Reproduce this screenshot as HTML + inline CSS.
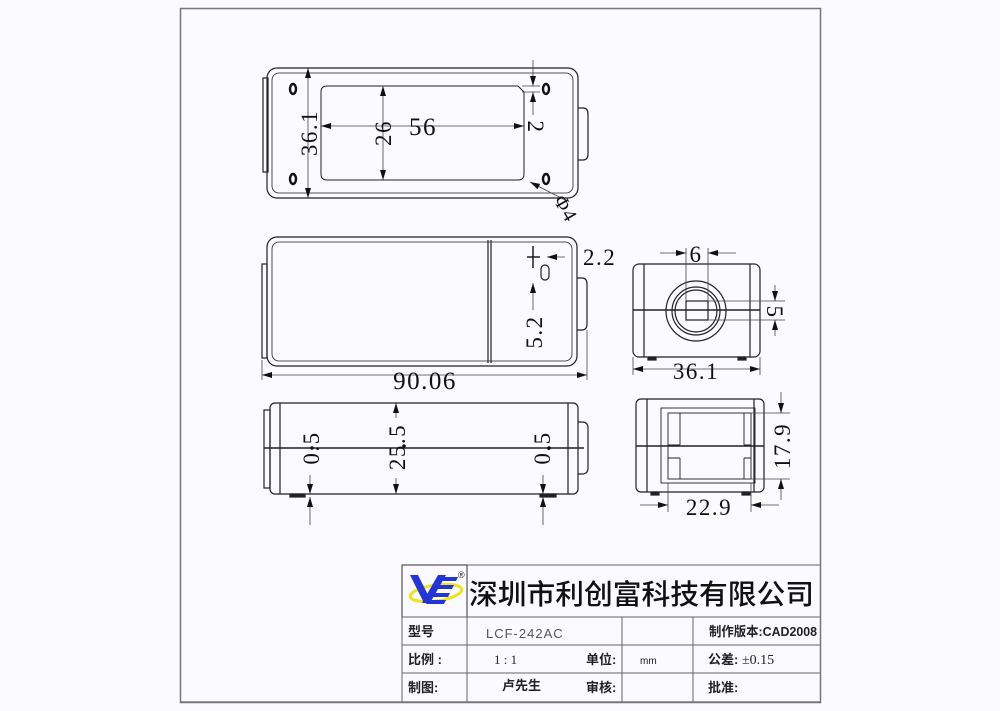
<!DOCTYPE html>
<html><head><meta charset="utf-8"><style>
html,body{margin:0;padding:0;background:#fafaff;}
svg{display:block;}
.d{font-family:"Liberation Serif","Noto Serif CJK SC",serif;font-size:23px;fill:#111;letter-spacing:1.5px;}
.c{font-family:"Liberation Sans","Noto Sans CJK SC",sans-serif;font-weight:bold;font-size:13px;fill:#222;}
</style></head><body>
<svg width="1000" height="711" viewBox="0 0 1000 711" xmlns="http://www.w3.org/2000/svg">
<defs>
<marker id="a" viewBox="0 0 10 6" refX="10" refY="3" markerWidth="10" markerHeight="6" orient="auto-start-reverse" markerUnits="userSpaceOnUse"><path d="M0,0L10,3L0,6z" fill="#111"/></marker>
</defs>
<rect x="0" y="0" width="1000" height="711" fill="#fafaff"/>
<rect x="180.5" y="8.5" width="640" height="694" fill="none" stroke="#777" stroke-width="1.5"/>

<g fill="none" stroke="#222" stroke-width="1.2">
<rect x="267" y="68" width="311" height="130" rx="10"/>
<rect x="272" y="73" width="301" height="120" rx="7" stroke-width="0.8"/>
<rect x="263" y="78" width="5" height="94"/>
<path d="M578,108 h5 q5,0 5,6 v40 q0,6 -5,6 h-5"/>
<path d="M327,86 H518 L524,92 V174 Q524,180 518,180 H327 Q321,180 321,174 V92 Q321,86 327,86Z" stroke-width="1"/>
<rect x="267" y="237" width="310" height="129" rx="10"/>
<rect x="272" y="242" width="300" height="119" rx="7" stroke-width="0.8"/>
<rect x="262" y="264" width="5" height="94"/>
<path d="M577,278 h5 q5,0 5,6 v40 q0,6 -5,6 h-5"/>
<line x1="488" y1="240" x2="488" y2="363"/><line x1="491" y1="240" x2="491" y2="363"/>
<rect x="541" y="265" width="8" height="15" rx="4"/>
<rect x="270" y="403" width="308" height="91" rx="5"/>
<line x1="280" y1="403" x2="280" y2="494"/><line x1="568" y1="403" x2="568" y2="494"/>
<line x1="264" y1="448" x2="584" y2="448" stroke-width="1.6"/>
<rect x="264" y="410" width="6" height="78"/>
<path d="M578,422 h4 q6,0 6,6 v40 q0,6 -6,6 h-4"/>
<rect x="290" y="494" width="15" height="3" fill="#222"/>
<rect x="540" y="494" width="16" height="3" fill="#222"/>
<rect x="633" y="264" width="127" height="93" rx="6"/>
<line x1="644" y1="264" x2="644" y2="357"/><line x1="750" y1="264" x2="750" y2="357"/>
<line x1="633" y1="310" x2="760" y2="310" stroke-width="1.6"/>
<circle cx="696" cy="311" r="30"/>
<circle cx="696" cy="311" r="24"/>
<circle cx="696" cy="311" r="21"/>
<rect x="686" y="301" width="22" height="19"/>
<rect x="648" y="357" width="8" height="3" fill="#222"/><rect x="738" y="357" width="8" height="3" fill="#222"/>
<rect x="636" y="399" width="128" height="93" rx="5"/>
<line x1="647" y1="399" x2="647" y2="492"/><line x1="754" y1="399" x2="754" y2="492"/>
<rect x="661" y="408" width="94" height="75" stroke-width="0.9"/>
<rect x="668" y="413" width="83" height="66" stroke-width="0.9"/>
<path d="M680,413 V445 M680,458 V479 M744,413 V445 M744,458 V479 M668,445 H680 M668,458 H680 M744,445 H751 M744,458 H751" stroke-width="0.9"/>
<line x1="636" y1="446" x2="764" y2="446" stroke-width="1.6"/>
<rect x="651" y="492" width="8" height="3" fill="#222"/><rect x="742" y="492" width="8" height="3" fill="#222"/>
</g>

<g fill="none" stroke="#111" stroke-width="2.4">
<ellipse cx="293" cy="89" rx="3" ry="5"/><ellipse cx="546" cy="89" rx="3" ry="5"/>
<ellipse cx="293" cy="179" rx="3" ry="5"/><ellipse cx="546" cy="179" rx="3" ry="5"/>
</g>

<g stroke="#444" stroke-width="0.8" fill="none">
<line x1="308" y1="68" x2="308" y2="198" marker-start="url(#a)" marker-end="url(#a)"/>
<line x1="383" y1="86" x2="383" y2="180" marker-start="url(#a)" marker-end="url(#a)"/>
<line x1="321" y1="126" x2="524" y2="126" marker-start="url(#a)" marker-end="url(#a)"/>
<line x1="533" y1="60" x2="533" y2="86" marker-end="url(#a)"/>
<line x1="533" y1="115" x2="533" y2="92" marker-end="url(#a)"/>
<line x1="522" y1="86" x2="540" y2="86"/><line x1="522" y1="92" x2="540" y2="92"/>
<line x1="565" y1="200" x2="530" y2="182" marker-end="url(#a)"/>
<line x1="262" y1="375" x2="587" y2="375" marker-start="url(#a)" marker-end="url(#a)"/>
<line x1="262" y1="360" x2="262" y2="380"/><line x1="587" y1="330" x2="587" y2="380"/>
<line x1="533" y1="246" x2="533" y2="268" stroke="#111" stroke-width="1.4"/><line x1="527" y1="257" x2="540" y2="257" stroke="#111" stroke-width="1.4"/>
<line x1="565" y1="257" x2="547" y2="257" marker-end="url(#a)"/>
<line x1="533" y1="310" x2="533" y2="283" marker-end="url(#a)"/>
<line x1="310" y1="475" x2="310" y2="494" marker-end="url(#a)"/>
<line x1="310" y1="525" x2="310" y2="497" marker-end="url(#a)"/>
<line x1="396" y1="418" x2="396" y2="403" marker-end="url(#a)"/>
<line x1="396" y1="478" x2="396" y2="494" marker-end="url(#a)"/>
<line x1="543" y1="475" x2="543" y2="494" marker-end="url(#a)"/>
<line x1="543" y1="525" x2="543" y2="497" marker-end="url(#a)"/>
<line x1="686" y1="301" x2="686" y2="248"/><line x1="708" y1="301" x2="708" y2="248"/>
<line x1="660" y1="253" x2="686" y2="253" marker-end="url(#a)"/>
<line x1="736" y1="253" x2="708" y2="253" marker-end="url(#a)"/>
<line x1="708" y1="301" x2="785" y2="301"/><line x1="708" y1="320" x2="785" y2="320"/>
<line x1="775" y1="285" x2="775" y2="301" marker-end="url(#a)"/>
<line x1="775" y1="336" x2="775" y2="320" marker-end="url(#a)"/>
<line x1="633" y1="357" x2="633" y2="375"/><line x1="760" y1="357" x2="760" y2="375"/>
<line x1="633" y1="369" x2="760" y2="369" marker-start="url(#a)" marker-end="url(#a)"/>
<line x1="751" y1="413" x2="790" y2="413"/><line x1="751" y1="479" x2="790" y2="479"/>
<line x1="781" y1="392" x2="781" y2="413" marker-end="url(#a)"/>
<line x1="781" y1="500" x2="781" y2="479" marker-end="url(#a)"/>
<line x1="668" y1="483" x2="668" y2="512"/><line x1="751" y1="483" x2="751" y2="512"/>
<line x1="640" y1="505" x2="668" y2="505" marker-end="url(#a)"/>
<line x1="779" y1="505" x2="751" y2="505" marker-end="url(#a)"/>
</g>
<circle cx="312" cy="448" r="1.8" fill="#111"/><circle cx="404" cy="446" r="1.8" fill="#111"/><circle cx="549" cy="448" r="1.8" fill="#111"/>

<g class="d">
<text transform="translate(317,133) rotate(-90)" text-anchor="middle">36.1</text>
<text transform="translate(391,133) rotate(-90)" text-anchor="middle">26</text>
<text x="423" y="135" text-anchor="middle" style="font-size:25px">56</text>
<text transform="translate(528,127) rotate(90)" text-anchor="middle">2</text>
<text transform="translate(560,212) rotate(60)" text-anchor="middle" style="font-size:20px">Φ4</text>
<text x="583" y="265">2.2</text>
<text transform="translate(542,332) rotate(-90)" text-anchor="middle">5.2</text>
<text x="425" y="389" text-anchor="middle" style="font-size:25px">90.06</text>
<text transform="translate(319,448) rotate(-90)" text-anchor="middle">0.5</text>
<text transform="translate(405,447) rotate(-90)" text-anchor="middle">25.5</text>
<text transform="translate(550,448) rotate(-90)" text-anchor="middle">0.5</text>
<text x="696" y="262" text-anchor="middle">6</text>
<text transform="translate(767,312) rotate(90)" text-anchor="middle">5</text>
<text x="696" y="379" text-anchor="middle">36.1</text>
<text transform="translate(790,446) rotate(-90)" text-anchor="middle">17.9</text>
<text x="709" y="515" text-anchor="middle">22.9</text>
</g>

<g stroke="#666" stroke-width="1" fill="none">
<line x1="402" y1="565" x2="820" y2="565"/>
<rect x="402" y="565" width="65" height="52" stroke="#333"/>
<line x1="402" y1="617" x2="820" y2="617"/>
<line x1="402" y1="645" x2="820" y2="645"/>
<line x1="402" y1="673" x2="820" y2="673"/>
<line x1="402" y1="617" x2="402" y2="702"/>
<line x1="467" y1="617" x2="467" y2="702"/>
<line x1="622" y1="617" x2="622" y2="702"/>
<line x1="693" y1="617" x2="693" y2="702"/>
<line x1="180" y1="702" x2="820" y2="702" stroke="#777" stroke-width="1.5"/>
</g>
<g>
<ellipse cx="436" cy="593" rx="26" ry="8" fill="none" stroke="#f2e21a" stroke-width="3" transform="rotate(-8 436 593)"/>
<path d="M410,575 h8 l14,28 h-8z" fill="#2235d8"/>
<path d="M422,603 l16,-28 h8 l-16,28z" fill="#2235d8"/>
<path d="M440,577 h18 l-2,4 h-18z M436,585 h18 l-2,4 h-18z M432,593 h18 l-2,4 h-18z M428,600 h18 l-2,4 h-18z" fill="#2235d8"/>
<text x="458" y="578" style="font-family:'Liberation Sans',sans-serif;font-size:9px" fill="#222">®</text>
</g>
<text x="469" y="604" style="font-family:'Liberation Sans','Noto Sans CJK SC',sans-serif;font-size:28px;font-weight:500" fill="#111" textLength="345" lengthAdjust="spacingAndGlyphs">深圳市利创富科技有限公司</text>
<g class="c">
<text x="408" y="636">型号</text>
<text x="486" y="638" style="font-weight:normal;font-size:13px;letter-spacing:1px;fill:#555">LCF-242AC</text>
<text x="709" y="636" textLength="108" lengthAdjust="spacingAndGlyphs">制作版本:CAD2008</text>
<text x="408" y="664">比例 :</text>
<text x="494" y="664" style="font-weight:normal;font-family:'Liberation Serif',serif">1 : 1</text>
<text x="586" y="664">单位:</text>
<text x="640" y="664" style="font-size:10px;font-weight:normal">mm</text>
<text x="708" y="664">公差: <tspan style="font-weight:normal;font-family:'Liberation Serif','Noto Serif CJK SC',serif;font-size:14px">±0.15</tspan></text>
<text x="408" y="692">制图:</text>
<text x="502" y="690">卢先生</text>
<text x="586" y="692">审核:</text>
<text x="708" y="692">批准:</text>
</g>
</svg>
</body></html>
